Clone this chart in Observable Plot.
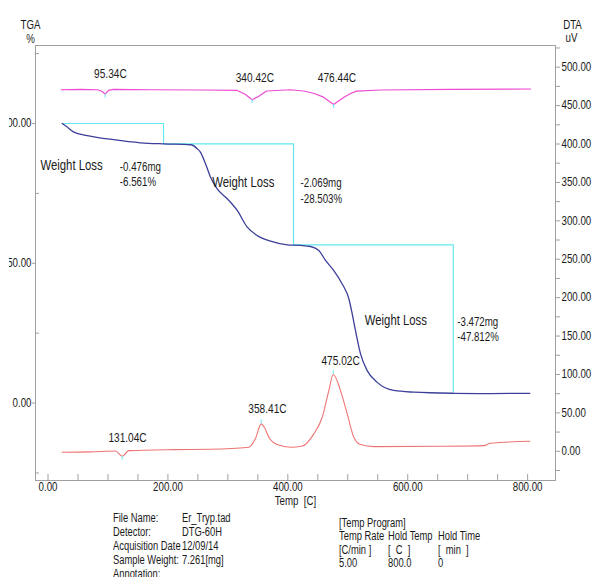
<!DOCTYPE html>
<html><head><meta charset="utf-8">
<script src="https://cdn.jsdelivr.net/npm/d3@7"></script>
<script src="https://cdn.jsdelivr.net/npm/@observablehq/plot@0.6"></script>
<style>
body{margin:0;background:#fff;}
#wrap{position:relative;width:592px;height:577px;overflow:hidden;font-family:'Liberation Sans',Arial,sans-serif;color:#1a1a1a;}
#wrap svg{display:block;clip-path:inset(0 0 0 9px);}
.info{position:absolute;font-size:12px;white-space:pre;line-height:14px;transform:scaleX(0.78);transform-origin:0 0;}
</style></head><body><div id="wrap"></div>
<script>
// ---- TGA curve (Temp °C, weight %)
const tgaT   = [23.7, 30.9, 43.0, 65.4, 109.3, 154.3, 192.7, 237.7, 248.9, 254.4, 262.7, 271.1, 282.2, 298.9, 315.6, 332.3, 349.0, 371.1, 399.0, 421.2, 437.9, 451.7, 462.9, 476.7, 490.7, 501.8, 507.4, 512.9, 521.3, 532.4, 549.1, 576.8, 610.2, 676.9, 738, 803.7];
const tgaPct = [100.0, 98.9, 96.9, 95.7, 94.2, 93.1, 92.7, 92.4, 91.0, 89.7, 85.6, 80.8, 76.6, 73.1, 68.9, 62.9, 59.9, 57.9, 56.6, 56.4, 56.0, 54.6, 51.0, 47.4, 42.6, 37.3, 31.9, 25.9, 17.6, 11.6, 7.4, 4.5, 3.9, 3.5, 3.4, 3.5];

// ---- upper trace (magenta), right axis uV
const upperT  = [22.0, 54.2, 82.6, 89.2, 95.3, 100.9, 109.3, 171, 254, 315.6, 329.4, 340.4, 351, 364.5, 404.5, 426, 442.9, 459.6, 476.4, 493, 504.6, 514.6, 554.6, 671, 805];
const upperUV = [470.6, 471, 470.6, 469, 465, 469.7, 471, 470.6, 470.3, 469.7, 464.5, 457.6, 461.8, 469, 470.6, 469, 466.1, 461, 451.4, 460.5, 465.8, 468.8, 470.3, 471, 471.6];

// ---- DTA trace (salmon), right axis uV
const dtaT  = [23.7, 70.9, 112.6, 123.8, 134.8, 209.8, 271, 335, 346, 355.6, 361, 368.3, 382.3, 404.5, 424, 443.4, 457.4, 468.4, 475.7, 487.9, 499.1, 510.1, 521.3, 543.5, 654.7, 727, 738, 803.7];
const dtaUV = [-1.3, -0.8, 0.3, -6.5, 0.9, 2.2, 2.6, 5.2, 16.5, 35.7, 30.9, 18.2, 8.7, 5.2, 6.8, 22.7, 44.3, 79, 99.9, 79, 48.7, 18.2, 8.7, 6.1, 6.5, 7.4, 10.4, 13.0];

// ---- weight-loss step guide
const stepT   = [23.7, 192.7, 192.7, 409.5, 409.5, 676, 676];
const stepPct = [100, 100, 92.7, 92.7, 56.6, 56.6, 3.5];

// ---- peak markers (extremes of the two traces)
const markT   = [95.3, 340.4, 476.4, 123.8, 355.6, 475.7];
const markUV  = [465, 457.6, 451.4, -6.5, 35.7, 99.9];
const markDir = [-1, -1, -1, -1, 1, 1];

// ---- annotations
const lossText = ["Weight Loss", "-0.476mg", "-6.561%", "Weight Loss", "-2.069mg", "-28.503%", "Weight Loss", "-3.472mg", "-47.812%"];
const lossT    = [-12.5, 119.8, 119.8, 273.9, 421.2, 421.2, 528.4, 682.6, 682.6];
const lossPct  = [85.0, 84.4, 79.0, 79.0, 78.8, 72.8, 29.5, 28.9, 23.5];
const lossBig  = [true, false, false, true, false, false, true, false, false];

const peakText = ["95.34C", "340.42C", "476.44C", "131.04C", "358.41C", "475.02C"];
const peakT    = [104, 345, 482, 132.6, 366, 488];
const peakUV   = [490.5, 486.2, 486.2, 17.4, 55.2, 118.1];

// ---- axes ticks
const xTicks = [0, 200, 400, 600, 800];
const xMinor = [0, 50, 100, 150, 200, 250, 300, 350, 400, 450, 500, 550, 600, 650, 700, 750, 800];
const tgaTicks = [0, 50, 100];
const tgaMinor = [-25, 25, 75, 125];
const dtaTicks = [0, 50, 100, 150, 200, 250, 300, 350, 400, 450, 500];
const dtaMinor = [-25, 25, 75, 125, 175, 225, 275, 325, 375, 425, 475, 525];

// ---- info block
const infoLabels = ["File Name:", "Detector:", "Acquisition Date", "Sample Weight:", "Annotation:"];
const infoValues = ["Er_Tryp.tad", "DTG-60H", "12/09/14", "7.261[mg]", ""];
const progCol1 = ["[Temp Program]", "Temp Rate", "[C/min ]", "5.00"];
const progCol2 = ["", "Hold Temp", "[  C  ]", "800.0"];
const progCol3 = ["", "Hold Time", "[  min  ]", "0"];

const xDomain = [-20.9, 846.5];
const yDomain = [-27.7, 127.9];
const toPct = uv => (0.768 * uv - 48.2) / 2.795;   // right axis (uV) -> left scale
const xPx = 0.5995, yPx = 2.795;

const tgaData   = tgaT.map((t, i) => ({t, v: tgaPct[i]}));
const upperData = upperT.map((t, i) => ({t, v: toPct(upperUV[i])}));
const dtaData   = dtaT.map((t, i) => ({t, v: toPct(dtaUV[i])}));
const stepData  = stepT.map((t, i) => ({t, v: stepPct[i]}));
const markData  = markT.map((t, i) => ({t, v1: toPct(markUV[i]), v2: toPct(markUV[i] + markDir[i] * 5)}));
const lossData  = lossText.map((s, i) => ({s, t: lossT[i], v: lossPct[i], big: lossBig[i]}));
const peakData  = peakText.map((s, i) => ({s, t: peakT[i], v: toPct(peakUV[i])}));

const font = "'Liberation Sans',Arial,sans-serif";

const chart = Plot.plot({
  width: 592, height: 512,
  marginLeft: 35, marginRight: 37, marginTop: 45, marginBottom: 32,
  style: {fontFamily: font, fontSize: "12px", color: "#1a1a1a", background: "#fff"},
  x: {domain: xDomain},
  y: {domain: yDomain},
  marks: [
    Plot.frame({stroke: "#a0a0a0"}),
    Plot.ruleX(xMinor, {y1: yDomain[0], y2: yDomain[0] + 6 / yPx, stroke: "#a0a0a0"}),
    Plot.axisX({anchor: "bottom", ticks: xTicks, tickSize: 0, tickPadding: 2, tickFormat: d => d.toFixed(2), label: null, fontSize: 12}),
    Plot.text(["Temp  [C]"], {frameAnchor: "bottom", dy: 21, lineAnchor: "middle", textAnchor: "middle", fontSize: 12}),
    Plot.axisY({anchor: "left", ticks: tgaTicks, tickSize: 3, tickPadding: 1, tickFormat: d => d.toFixed(2), label: null, stroke: "#a0a0a0", fontSize: 12}),
    Plot.ruleY(tgaMinor, {x1: xDomain[0], x2: xDomain[0] + 4 / xPx, stroke: "#a0a0a0"}),
    Plot.axisY({anchor: "right", ticks: dtaTicks.map(toPct), tickSize: 4, tickPadding: 2, tickFormat: d => ((d * 2.795 + 48.2) / 0.768).toFixed(2), label: null, stroke: "#a0a0a0", fontSize: 12}),
    Plot.axisY({anchor: "right", ticks: dtaMinor.map(toPct), tickSize: 4, tickFormat: () => "", label: null, stroke: "#a0a0a0"}),
    Plot.text(["TGA"], {frameAnchor: "top-left", dx: -5, dy: -20, lineAnchor: "middle", textAnchor: "middle", fontSize: 12}),
    Plot.text(["%"], {frameAnchor: "top-left", dx: -5, dy: -6, lineAnchor: "middle", textAnchor: "middle", fontSize: 12}),
    Plot.text(["DTA"], {frameAnchor: "top-right", dx: 17, dy: -20, lineAnchor: "middle", textAnchor: "middle", fontSize: 12}),
    Plot.text(["uV"], {frameAnchor: "top-right", dx: 16, dy: -7, lineAnchor: "middle", textAnchor: "middle", fontSize: 12}),
    Plot.line(stepData, {x: "t", y: "v", stroke: "#5fe8f0", strokeWidth: 1.1}),
    Plot.line(upperData, {x: "t", y: "v", stroke: "#ee4ad2", strokeWidth: 1.2}),
    Plot.line(dtaData, {x: "t", y: "v", stroke: "#ee7474", strokeWidth: 1.1, curve: "monotone-x"}),
    Plot.line(tgaData, {x: "t", y: "v", stroke: "#3d3f9a", strokeWidth: 1.3, curve: "monotone-x"}),
    Plot.ruleX(markData, {x: "t", y1: "v1", y2: "v2", stroke: "#5fe8f0", strokeWidth: 1}),
    Plot.text(lossData.filter(d => d.big), {x: "t", y: "v", text: "s", textAnchor: "start", fontSize: 14, fill: "#1a1a1a"}),
    Plot.text(lossData.filter(d => !d.big), {x: "t", y: "v", text: "s", textAnchor: "start", fontSize: 12, fill: "#1a1a1a"}),
    Plot.text(peakData, {x: "t", y: "v", text: "s", textAnchor: "middle", fontSize: 12.5, fill: "#1a1a1a"})
  ]
});

// condense all SVG texts horizontally around their anchor (the reference uses a narrow face)
const S = 0.81;
chart.querySelectorAll("text").forEach(t => {
  const x = +t.getAttribute("x") || 0, y = +t.getAttribute("y") || 0;
  const tr = t.getAttribute("transform") || "";
  t.setAttribute("transform", `${tr} translate(${x},${y}) scale(${S},1) translate(${-x},${-y})`);
});

const wrap = document.getElementById("wrap");
wrap.appendChild(chart);

function addLines(arr, left, topPx, lh) {
  arr.forEach((s, i) => {
    if (!s) return;
    const d = document.createElement("div");
    d.className = "info";
    d.style.left = left + "px";
    d.style.top = (topPx + i * lh) + "px";
    d.textContent = s;
    wrap.appendChild(d);
  });
}
addLines(infoLabels, 113, 511, 14.1);
addLines(infoValues, 182, 511, 14.1);
addLines(progCol1, 339, 516, 13.4);
addLines(progCol2, 388, 516, 13.4);
addLines(progCol3, 438, 516, 13.4);
</script></body></html>
